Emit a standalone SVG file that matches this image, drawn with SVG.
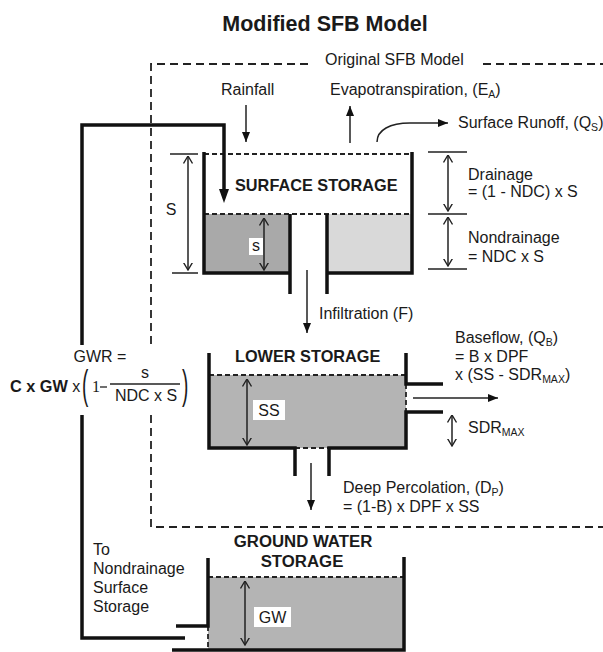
<svg xmlns="http://www.w3.org/2000/svg" width="603" height="652" viewBox="0 0 603 652">
<style>
text{font-family:"Liberation Sans",Arial,sans-serif;fill:#1a1a1a;font-size:16px}
.b{font-weight:bold;font-size:16.3px}
.title{font-size:21.5px;font-weight:bold}
.sub{font-size:10.5px}
.wall{fill:none;stroke:#111;stroke-width:3.5}
.thin{fill:none;stroke:#222;stroke-width:1.5}
.box{fill:none;stroke:#222;stroke-width:1.8;stroke-dasharray:8 5}
.lvl{fill:none;stroke:#222;stroke-width:1.8;stroke-dasharray:5 3}
.dk{fill:#a9a9a9}
.lt{fill:#d9d9d9}
.md{fill:#b4b4b4}
</style>
<defs>
<marker id="ah" markerUnits="userSpaceOnUse" viewBox="0 0 10 8" refX="10" refY="4" markerWidth="10" markerHeight="8" orient="auto">
<path d="M0,0 L10,4 L0,8 z" fill="#111"/>
</marker>
<marker id="ahb" markerUnits="userSpaceOnUse" viewBox="0 0 14 10" refX="14" refY="5" markerWidth="14" markerHeight="10" orient="auto">
<path d="M0,0 L14,5 L0,10 z" fill="#111"/>
</marker>
<marker id="ch" markerUnits="userSpaceOnUse" viewBox="0 0 8 10" refX="7.5" refY="5" markerWidth="8" markerHeight="10" orient="auto-start-reverse">
<path d="M0,0.5 L7.5,5 L0,9.5" fill="none" stroke="#222" stroke-width="1.4"/>
</marker>
</defs>

<text class="title" x="325" y="31" text-anchor="middle">Modified SFB Model</text>

<g id="original-box">
<path class="box" d="M308,64 H151 V345 M151,415 V527 H603 M483,64 H603"/>
<text x="325" y="65">Original SFB Model</text>
</g>

<g id="surface-storage">
<rect class="dk" x="204" y="214" width="86" height="59"/>
<rect class="lt" x="327" y="214" width="85" height="59"/>
<path class="lvl" d="M204,154 H412 M204,214 H412"/>
<path class="wall" d="M204,152 V273 H290 M290,214 V294 M412,152 V273 H327 M327,214 V294"/>
<text class="b" x="235" y="191">SURFACE STORAGE</text>
<path class="thin" d="M170,154 H198 M172,273 H198"/>
<line class="thin" x1="188" y1="156" x2="188" y2="270" marker-start="url(#ch)" marker-end="url(#ch)"/>
<text x="171" y="215" text-anchor="middle">S</text>
<rect x="249" y="238" width="14" height="17" fill="#fff"/>
<line class="thin" x1="264" y1="218" x2="264" y2="270" marker-start="url(#ch)" marker-end="url(#ch)"/>
<text x="256" y="251" text-anchor="middle">s</text>
</g>

<g id="drainage">
<path class="thin" d="M428,152 H467 M428,214 H467 M428,269 H467"/>
<line class="thin" x1="448" y1="155" x2="448" y2="211" marker-start="url(#ch)" marker-end="url(#ch)"/>
<line class="thin" x1="448" y1="217" x2="448" y2="266" marker-start="url(#ch)" marker-end="url(#ch)"/>
<text x="468" y="180">Drainage</text>
<text x="468" y="197">= (1 - NDC) x S</text>
<text x="468" y="243">Nondrainage</text>
<text x="468" y="262">= NDC x S</text>
</g>

<g id="lower-storage">
<rect class="md" x="209" y="375" width="197" height="73"/>
<path class="lvl" d="M209,375 H406 M406,384 V412 M295,448 H329"/>
<path class="wall" d="M209,353 V448 H295 V476 M329,476 V448 H406 V412 H443 M443,384 H406 V353"/>
<text class="b" x="235" y="362">LOWER STORAGE</text>
<line class="thin" x1="247" y1="379" x2="247" y2="445" marker-start="url(#ch)" marker-end="url(#ch)"/>
<rect x="253" y="400" width="32" height="20" fill="#fff"/>
<text x="269" y="416" text-anchor="middle">SS</text>
</g>

<g id="baseflow">
<text x="455" y="343">Baseflow, (Q<tspan class="sub" dy="3">B</tspan><tspan dy="-3">)</tspan></text>
<text x="455" y="362">= B x DPF</text>
<text x="455" y="380">x (SS - SDR<tspan class="sub" dy="3">MAX</tspan><tspan dy="-3">)</tspan></text>
<line class="thin" x1="452" y1="415" x2="452" y2="446" marker-start="url(#ch)" marker-end="url(#ch)"/>
<text x="468" y="433">SDR<tspan class="sub" dy="3">MAX</tspan></text>
</g>

<g id="ground-water-storage">
<rect class="md" x="208" y="577" width="196" height="73"/>
<path class="lvl" d="M208,577 H404 M208,626 V650"/>
<path class="wall" d="M208,558 V626 H176 M172,650 H404 V557"/>
<text class="b" x="303" y="547" text-anchor="middle" style="font-size:16.8px">GROUND WATER</text>
<text class="b" x="302" y="567" text-anchor="middle" style="font-size:16.8px">STORAGE</text>
<line class="thin" x1="245" y1="581" x2="245" y2="645" marker-start="url(#ch)" marker-end="url(#ch)"/>
<rect x="254" y="607" width="37" height="20" fill="#fff"/>
<text x="272.5" y="623" text-anchor="middle">GW</text>
<text x="93" y="555">To</text>
<text x="93" y="574">Nondrainage</text>
<text x="93" y="593">Surface</text>
<text x="93" y="612">Storage</text>
</g>

<g id="gwr-formula">
<text x="100" y="362" text-anchor="middle">GWR =</text>
<text x="10" y="392"><tspan class="b">C x GW</tspan> x</text>
<text transform="translate(82,399) scale(1,2.1)" style="font-size:19px">(</text>
<text x="92" y="392" style="font-family:'Liberation Serif',serif;font-size:16px">1</text>
<line x1="100" y1="387" x2="107" y2="387" stroke="#222" stroke-width="1.3"/>
<text x="145" y="378" text-anchor="middle">s</text>
<line x1="110" y1="384" x2="180" y2="384" stroke="#222" stroke-width="1.3"/>
<text x="146" y="401" text-anchor="middle">NDC x S</text>
<text transform="translate(182,399) scale(1,2.1)" style="font-size:19px">)</text>
</g>

<g id="connectors">
<line class="thin" x1="246" y1="105" x2="246" y2="142" marker-end="url(#ah)"/>
<text x="221" y="95">Rainfall</text>
<line class="thin" x1="350" y1="143" x2="350" y2="106" marker-end="url(#ah)"/>
<text x="330" y="95">Evapotranspiration, (E<tspan class="sub" dy="3">A</tspan><tspan dy="-3">)</tspan></text>
<path class="thin" d="M377,142 C377,130 390,123 410,123 H448" marker-end="url(#ah)"/>
<text x="458" y="128">Surface Runoff, (Q<tspan class="sub" dy="3">S</tspan><tspan dy="-3">)</tspan></text>
<line class="thin" x1="307" y1="270" x2="307" y2="333" marker-end="url(#ah)"/>
<text x="319" y="319">Infiltration (F)</text>
<line class="thin" x1="413" y1="398" x2="498" y2="398" marker-end="url(#ah)"/>
<line class="thin" x1="311" y1="463" x2="311" y2="510" marker-end="url(#ah)"/>
<text x="343" y="493">Deep Percolation, (D<tspan class="sub" dy="3">P</tspan><tspan dy="-3">)</tspan></text>
<text x="343" y="512">= (1-B) x DPF x SS</text>
<path class="wall" d="M185,638 H82 V415 M82,345 V125 H224 V190" />
<line x1="224" y1="188" x2="224" y2="203" stroke="none" marker-end="url(#ahb)"/>
</g>
</svg>
